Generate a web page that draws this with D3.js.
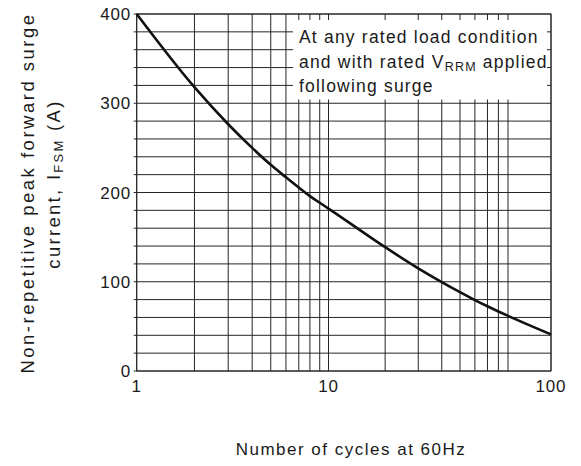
<!DOCTYPE html>
<html>
<head>
<meta charset="utf-8">
<script src="https://cdn.jsdelivr.net/npm/d3@7/dist/d3.min.js"></script>
<style>
  html, body { margin: 0; padding: 0; background: #fff; }
  svg { display: block; }
  text { font-family: "Liberation Sans", Arial, Helvetica, sans-serif; fill: #1a1a1a; }
</style>
</head>
<body>
<svg id="chart" width="581" height="466"></svg>
<script>
// ---- data ----
const cycles = [1, 2, 3, 4, 5, 6, 7, 8, 9, 10, 20, 30, 40, 50, 60, 70, 80, 90, 100];
const surgeA = [400, 318, 276.5, 250, 231, 217, 205.5, 196, 188.5, 182, 138.7, 115, 99.6, 88.3, 79.5, 72.5, 66.7, 61.8, 41];
const xGridValues = [1, 2, 3, 4, 5, 6, 7, 8, 9, 10, 20, 30, 40, 50, 60, 70, 80, 90, 100];
const xTickLabels = [1, 10, 100];
const yTickLabels = [0, 100, 200, 300, 400];
const noteLines = ["At any rated load condition", "and with rated V", "following surge"];

const svg = d3.select("#chart");

// log axis as drawn in the reference (decades not quite equal)
const x = d3.scaleLog().domain([1, 10, 90, 100]).range([136.7, 328.5, 508, 551]);
const y = d3.scaleLinear().domain([0, 400]).range([371, 14]);

const gridColor = "#262626";

// horizontal grid
svg.append("g").selectAll("line").data(y.ticks(20)).join("line")
  .attr("x1", x(1) - 3).attr("x2", x(100))
  .attr("y1", d => y(d)).attr("y2", d => y(d))
  .attr("stroke", gridColor).attr("stroke-width", 1);

// vertical grid
svg.append("g").selectAll("line").data(xGridValues).join("line")
  .attr("x1", d => x(d)).attr("x2", d => x(d))
  .attr("y1", y(0)).attr("y2", y(400))
  .attr("stroke", gridColor).attr("stroke-width", 1);

// annotation box (white, covering the grid)
const boxL = 293, boxR = 547, boxT = 20, boxB = 99.5;
svg.append("rect")
  .attr("x", boxL).attr("y", boxT).attr("width", boxR - boxL).attr("height", boxB - boxT)
  .attr("fill", "#fff");

// plot frame
svg.append("rect")
  .attr("x", x(1)).attr("y", y(400))
  .attr("width", x(100) - x(1)).attr("height", y(0) - y(400))
  .attr("fill", "none").attr("stroke", gridColor).attr("stroke-width", 1);

// curve
const line = d3.line()
  .x((d, i) => x(cycles[i]))
  .y(d => y(d))
  .curve(d3.curveMonotoneX);
svg.append("path")
  .attr("d", line(surgeA))
  .attr("fill", "none").attr("stroke", "#111").attr("stroke-width", 2.6)
  .attr("stroke-linejoin", "round");

// tick labels
svg.append("g").selectAll("text").data(yTickLabels).join("text")
  .attr("x", 131).attr("y", d => y(d)).attr("dy", "0.36em")
  .attr("text-anchor", "end").attr("font-size", 17).attr("letter-spacing", 0.8)
  .text(d => d);

svg.append("g").selectAll("text").data(xTickLabels).join("text")
  .attr("x", d => x(d)).attr("y", 392)
  .attr("text-anchor", "middle").attr("font-size", 17).attr("letter-spacing", 0.8)
  .text(d => d);

// axis titles
svg.append("text")
  .attr("x", 351).attr("y", 455)
  .attr("text-anchor", "middle").attr("font-size", 17).attr("letter-spacing", 1.5)
  .text("Number of cycles at 60Hz");

svg.append("text")
  .attr("transform", "translate(33.5,193) rotate(-90)")
  .attr("text-anchor", "middle").attr("font-size", 18.5).attr("letter-spacing", 2.5)
  .text("Non-repetitive peak forward surge");

const yt2 = svg.append("text")
  .attr("transform", "translate(60,184) rotate(-90)")
  .attr("text-anchor", "middle").attr("font-size", 18.5).attr("letter-spacing", 2.3);
yt2.append("tspan").text("current, I");
yt2.append("tspan").attr("font-size", 13).attr("dy", 3).text("FSM");
yt2.append("tspan").attr("dy", -3).text(" (A)");

// annotation text
const note = svg.append("g").attr("font-size", 17.5);
note.append("text").attr("x", 299).attr("y", 42.7).attr("letter-spacing", 1.2).text(noteLines[0]);
const n2 = note.append("text").attr("x", 299).attr("y", 68).attr("letter-spacing", 1.2);
n2.append("tspan").text(noteLines[1]);
n2.append("tspan").attr("font-size", 12.5).attr("dy", 3).text("RRM");
n2.append("tspan").attr("dy", -3).text(" applied");
note.append("text").attr("x", 299).attr("y", 92.3).attr("letter-spacing", 1.2).text(noteLines[2]);
</script>
</body>
</html>
